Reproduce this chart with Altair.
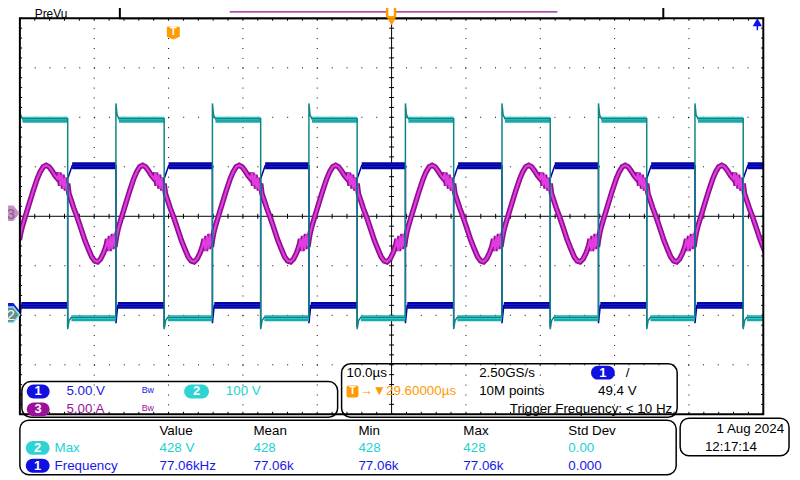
import altair as alt
import pandas as pd

ch1_v_per_div = 5.0
ch2_v_per_div = 100.0
ch3_a_per_div = 5.0
ch1_offset_div = -1.8
ch2_offset_div = -1.98
ch3_offset_div = 0.0

# switching edges of channel 2 (µs, relative to screen centre)
ch2_rise_us = [-50.06, -37.08, -24.10, -11.12, 1.86, 14.85, 27.83, 40.81]
ch2_fall_us = [-43.57, -30.59, -17.61, -4.63, 8.35, 21.34, 34.32, 47.30]

# channel 2 levels (V)
ch2_high_v = 395
ch2_low_v = -6
ch2_overshoot_v = 426
ch2_undershoot_v = -30

# channel 1 levels (V)
ch1_high_v = 14.1
ch1_low_v = 0.0
ch1_rise_dip_v = -2.2
ch1_fall_dip_v = -1.8
ch1_step_v = 12.8

# channel 3: one switching period, read after a ch2 rising edge (µs, A)
ch3_dt_us = [0.00, 0.20, 0.40, 0.80, 1.33, 1.86, 2.40, 2.80, 3.20, 3.60, 3.99, 4.39,
             4.79, 5.13, 5.33, 5.53, 5.73, 5.93, 6.13, 6.32, 6.49, 6.66, 6.92, 7.32,
             7.72, 8.26, 8.79, 9.32, 9.72, 10.12, 10.52, 10.92, 11.32, 11.65, 11.85,
             12.05, 12.25, 12.45, 12.65, 12.85]
ch3_amp_a = [-2.4, -1.6, -1.0, 0.0, 1.3, 2.6, 3.8, 4.5, 5.0, 5.15, 5.0, 4.6,
             4.1, 3.8, 4.4, 3.1, 4.2, 2.8, 3.9, 2.6, 3.3, 2.3, 1.7, 0.8,
             0.0, -1.2, -2.4, -3.4, -4.1, -4.5, -4.6, -4.3, -3.7, -3.0, -2.3,
             -3.5, -2.0, -3.3, -1.8, -3.1]

# measurement table
meas_headers = ["Value", "Mean", "Min", "Max", "Std Dev"]
meas_ch2_max = ["428 V", "428", "428", "428", "0.00"]
meas_ch1_freq = ["77.06kHz", "77.06k", "77.06k", "77.06k", "0.000"]

# ---------------- layout (page pixels) ----------------
PLOT_L, PLOT_T, PLOT_W, PLOT_H = 20, 16, 751, 400


def X(px):
    return (px - PLOT_L) / PLOT_W * 100 - 50


def Y(py):
    return 4 - (py - PLOT_T) / PLOT_H * 8


BLACK = "#000000"
BLUE_T = "#1818E8"
CYAN_T = "#22D2D2"
PURP_T = "#A010A0"
ORANGE = "#FF9A00"
FONT = "Liberation Sans"

xs = alt.Scale(domain=[-50, 50], nice=False, zero=False)
ys = alt.Scale(domain=[-4, 4], nice=False, zero=False)


def enc(xf="t", yf="d"):
    return dict(x=alt.X(f"{xf}:Q", scale=xs, axis=None),
                y=alt.Y(f"{yf}:Q", scale=ys, axis=None))


# ---------------- traces ----------------
events = sorted([(t, "r") for t in ch2_rise_us] + [(t, "f") for t in ch2_fall_us])
T_END = 50.5
cy_pts, bl_pts, cy_seg, bl_seg = [], [], [], []
for k, (t, kind) in enumerate(events):
    nxt = events[k + 1][0] if k + 1 < len(events) else T_END
    if kind == "r":
        cy_pts += [(t, ch2_low_v), (t, ch2_overshoot_v), (t + 0.15, ch2_high_v + 8), (t + 0.4, ch2_high_v)]
        cy_seg += [(k, t + 0.4, ch2_high_v), (k, nxt, ch2_high_v)]
        bl_pts += [(t, ch1_high_v), (t, ch1_fall_dip_v), (t + 0.25, ch1_low_v)]
        bl_seg += [(k, t + 0.25, ch1_low_v), (k, nxt, ch1_low_v)]
    else:
        cy_pts += [(t, ch2_high_v), (t, ch2_undershoot_v), (t + 0.2, ch2_low_v - 6), (t + 0.5, ch2_low_v)]
        cy_seg += [(k, t + 0.5, ch2_low_v), (k, nxt, ch2_low_v)]
        bl_pts += [(t, ch1_low_v), (t, ch1_rise_dip_v), (t, ch1_step_v), (t + 0.6, ch1_high_v)]
        bl_seg += [(k, t + 0.6, ch1_high_v), (k, nxt, ch1_high_v)]
cy_pts.append((T_END, ch2_low_v))
bl_pts.append((T_END, ch1_high_v))

cy_df = pd.DataFrame([(i, t, v / ch2_v_per_div + ch2_offset_div) for i, (t, v) in enumerate(cy_pts)],
                     columns=["i", "t", "d"])
bl_df = pd.DataFrame([(i, t, v / ch1_v_per_div + ch1_offset_div) for i, (t, v) in enumerate(bl_pts)],
                     columns=["i", "t", "d"])
cy_seg_df = pd.DataFrame([(s, t, v / ch2_v_per_div + ch2_offset_div) for s, t, v in cy_seg],
                         columns=["s", "t", "d"])
bl_seg_df = pd.DataFrame([(s, t, v / ch1_v_per_div + ch1_offset_div) for s, t, v in bl_seg],
                         columns=["s", "t", "d"])
mg = []
for R in ch2_rise_us:
    for dt, a in zip(ch3_dt_us, ch3_amp_a):
        mg.append((R + dt, a / ch3_a_per_div + ch3_offset_div))
mg_df = pd.DataFrame([(i, t, d) for i, (t, d) in enumerate(mg)], columns=["i", "t", "d"])

layers = []

# ---------------- graticule ----------------
hgrid = pd.DataFrame({"d": [-3, -2, -1, 1, 2, 3]})
vgrid = pd.DataFrame({"t": [-40, -30, -20, -10, 10, 20, 30, 40]})
layers.append(alt.Chart(hgrid).mark_rule(color=BLACK, strokeWidth=1, strokeDash=[1, 14]).encode(
    y=alt.Y("d:Q", scale=ys, axis=None)))
layers.append(alt.Chart(vgrid).mark_rule(color=BLACK, strokeWidth=1, strokeDash=[1, 9]).encode(
    x=alt.X("t:Q", scale=xs, axis=None)))
layers.append(alt.Chart(pd.DataFrame({"d": [0]})).mark_rule(color=BLACK, strokeWidth=1).encode(
    y=alt.Y("d:Q", scale=ys, axis=None)))
layers.append(alt.Chart(pd.DataFrame({"t": [0]})).mark_rule(color=BLACK, strokeWidth=1).encode(
    x=alt.X("t:Q", scale=xs, axis=None)))

tx = [-50 + 2 * k for k in range(51)]
dy = [round(-4 + 0.2 * k, 2) for k in range(41)]
tick_rows = []
for t in tx:
    tick_rows.append((t, -0.05, t, 0.05))
    tick_rows.append((t, 4.0, t, 3.95))
    tick_rows.append((t, -4.0, t, -3.95))
for d in dy:
    tick_rows.append((-0.33, d, 0.33, d))
    tick_rows.append((-50, d, -49.7, d))
    tick_rows.append((49.7, d, 50, d))
ticks = pd.DataFrame(tick_rows, columns=["t", "d", "t2", "d2"])
layers.append(alt.Chart(ticks).mark_rule(color=BLACK, strokeWidth=1).encode(
    **enc(), x2="t2:Q", y2="d2:Q"))

# ---------------- traces ----------------
layers.append(alt.Chart(mg_df).mark_line(color="#8E108E", strokeWidth=5.5, clip=True).encode(
    **enc(), order="i:Q"))
layers.append(alt.Chart(mg_df).mark_line(color="#E03CE0", strokeWidth=2.2, clip=True).encode(
    **enc(), order="i:Q"))

layers.append(alt.Chart(bl_seg_df).mark_line(color="#0505A5", strokeWidth=7, clip=True).encode(
    **enc(), detail="s:N"))
layers.append(alt.Chart(bl_seg_df).mark_line(color="#2030EE", strokeWidth=2.2, clip=True).encode(
    **enc(), detail="s:N"))
layers.append(alt.Chart(bl_df).mark_line(color="#0000A0", strokeWidth=1.5, clip=True).encode(
    **enc(), order="i:Q"))

layers.append(alt.Chart(cy_seg_df).mark_line(color="#1CA8A8", strokeWidth=6, yOffset=1, clip=True).encode(
    **enc(), detail="s:N"))
layers.append(alt.Chart(cy_seg_df).mark_line(color="#44E6E6", strokeWidth=2.4, clip=True).encode(
    **enc(), detail="s:N"))
layers.append(alt.Chart(cy_df).mark_line(color="#0E8585", strokeWidth=1.5, clip=True).encode(
    **enc(), order="i:Q"))

# border of graticule
border = pd.DataFrame({"t": [-50], "t2": [50], "d": [-4], "d2": [4]})
layers.append(alt.Chart(border).mark_rect(filled=False, stroke=BLACK, strokeWidth=2).encode(
    **enc(), x2="t2:Q", y2="d2:Q"))

# ---------------- on-screen furniture ----------------
boxes = pd.DataFrame([
    (22, 341, 383, 419), (345, 684, 365, 419), (20, 683, 422, 477), (687, 797, 420, 458)],
    columns=["x1", "x2", "y1", "y2"])
boxes = pd.DataFrame({"t": boxes.x1.map(X), "t2": boxes.x2.map(X), "d": boxes.y1.map(Y), "d2": boxes.y2.map(Y)})
layers.append(alt.Chart(boxes).mark_rect(fill="white", fillOpacity=0, stroke=BLACK, strokeWidth=1.5,
                                         cornerRadius=9).encode(**enc(), x2="t2:Q", y2="d2:Q"))

# record-view bar at the top
topbar = pd.DataFrame({"t": [X(121)], "t2": [X(670)], "d": [Y(-3)], "d2": [Y(16)]})
layers.append(alt.Chart(topbar).mark_rect(fill="white", stroke=BLACK, strokeWidth=2).encode(
    **enc(), x2="t2:Q", y2="d2:Q"))
layers.append(alt.Chart(pd.DataFrame({"t": [X(232)], "t2": [X(563)], "d": [Y(9.5)]})).mark_rule(
    color="#8E108E", strokeWidth=1.5).encode(**enc(), x2="t2:Q"))
layers.append(alt.Chart(pd.DataFrame({"t": [X(391)], "t2": [X(399)], "d": [Y(3)], "d2": [Y(15)]})).mark_rect(
    fill="white", stroke=ORANGE, strokeWidth=2.5, cornerRadius=2).encode(**enc(), x2="t2:Q", y2="d2:Q"))
layers.append(alt.Chart(pd.DataFrame({"t": [X(395.5)], "d": [Y(19.5)]})).mark_point(
    shape="triangle-down", filled=True, color=ORANGE, size=70, opacity=1).encode(**enc()))

# trigger position marker "T"
layers.append(alt.Chart(pd.DataFrame({"t": [X(175)], "d": [Y(31)]})).mark_point(
    shape="M -1 -1 L 1 -1 L 1 0.55 L 0 1 L -1 0.55 Z", filled=True, color=ORANGE, size=170,
    opacity=1).encode(**enc()))
layers.append(alt.Chart(pd.DataFrame({"t": [X(175)], "d": [Y(30)], "s": ["T"]})).mark_text(
    font=FONT, fontSize=11, fontWeight="bold", color="white").encode(**enc(), text="s:N"))

# trigger level arrow (blue, top right)
layers.append(alt.Chart(pd.DataFrame({"t": [X(765)], "d": [Y(20)]})).mark_point(
    shape="triangle-up", filled=True, color="#1010F0", size=90, opacity=1).encode(**enc()))
layers.append(alt.Chart(pd.DataFrame({"t": [X(765)], "d": [Y(20)], "d2": [Y(28)]})).mark_rule(
    color="#1010F0", strokeWidth=1.5).encode(**enc(), y2="d2:Q"))

# channel ground markers on the left
marker_path = "M -1 -0.8 L 0.35 -0.8 L 1 0 L 0.35 0.8 L -1 0.8 Z"
layers.append(alt.Chart(pd.DataFrame({"t": [X(10)], "d": [Y(311.5)]})).mark_point(
    shape=marker_path, filled=True, color="#1818D8", size=380, opacity=1).encode(**enc()))
layers.append(alt.Chart(pd.DataFrame({"t": [X(10)], "d": [Y(315.5)]})).mark_point(
    shape=marker_path, filled=True, fill="#6E8A8A", stroke="#7FF0F0", strokeWidth=1.5, size=380,
    opacity=1).encode(**enc()))
layers.append(alt.Chart(pd.DataFrame({"t": [X(10)], "d": [Y(213)]})).mark_point(
    shape=marker_path, filled=True, color="#D08CD0", size=380, opacity=1).encode(**enc()))
mlabels = pd.DataFrame({"t": [X(11), X(11)], "d": [Y(214), Y(316)], "s": ["3", "2"],
                        "c": ["#6E6E6E", "#E8FFFF"]})
layers.append(alt.Chart(mlabels).mark_text(font=FONT, fontSize=15).encode(
    **enc(), text="s:N", color=alt.Color("c:N", scale=None)))

# pills
pills = pd.DataFrame([
    (27, 50, 386, 400, "#1010E0", "1"), (186, 211, 386, 400, "#2ED3D3", "2"),
    (27, 50, 404, 418, "#9C0E9C", "3"), (597, 621, 367, 381, "#1010E0", "1"),
    (26, 50, 443, 457, "#2ED3D3", "2"), (26, 50, 461, 475, "#1010E0", "1")],
    columns=["x1", "x2", "y1", "y2", "c", "s"])
pills["t"] = pills.x1.map(X)
pills["t2"] = pills.x2.map(X)
pills["d"] = pills.y1.map(Y)
pills["d2"] = pills.y2.map(Y)
pills["tm"] = ((pills.x1 + pills.x2) / 2).map(X)
pills["dm"] = ((pills.y1 + pills.y2) / 2).map(Y)
layers.append(alt.Chart(pills).mark_rect(cornerRadius=7).encode(
    **enc(), x2="t2:Q", y2="d2:Q", fill=alt.Fill("c:N", scale=None)))
layers.append(alt.Chart(pills).mark_text(font=FONT, fontSize=13, fontWeight="bold", color="white").encode(
    **enc("tm", "dm"), text="s:N"))

# orange T box in timebase panel
layers.append(alt.Chart(pd.DataFrame({"t": [X(350)], "t2": [X(362)], "d": [Y(387)], "d2": [Y(399)]})).mark_rect(
    color=ORANGE, cornerRadius=2).encode(**enc(), x2="t2:Q", y2="d2:Q"))
layers.append(alt.Chart(pd.DataFrame({"t": [X(356)], "d": [Y(393)], "s": ["T"]})).mark_text(
    font=FONT, fontSize=11, fontWeight="bold", color="white").encode(**enc(), text="s:N"))

# "PreVu" label in the top strip
layers.append(alt.Chart(pd.DataFrame({"t": [X(35)], "d": [Y(15.5)], "s": ["PreVu"]})).mark_text(
    font=FONT, fontSize=12, align="left", baseline="alphabetic", color=BLACK).encode(**enc(), text="s:N"))

# texts (left aligned)
texts = [
    ("10.0µs", 350, 374, BLACK, 13.5),
    ("2.50GS/s", 484, 374, BLACK, 13.5),
    ("/", 632, 374, BLACK, 13.5),
    ("→▼29.60000µs", 363, 393, ORANGE, 13.5),
    ("10M points", 484, 393, BLACK, 13.5),
    ("49.4 V", 604, 393, BLACK, 13.5),
    ("5.00 V", 67, 393, BLUE_T, 13.5),
    ("Bw", 143, 392, BLUE_T, 9),
    ("100 V", 228, 393, CYAN_T, 13.5),
    ("5.00 A", 67, 411, PURP_T, 13.5),
    ("Bw", 143, 410, PURP_T, 9),
    ("Max", 55, 450, CYAN_T, 13.5),
    ("Frequency", 55, 468, BLUE_T, 13.5),
    ("12:17:14", 712, 449, BLACK, 13.5),
]
col_x = [161, 256, 362, 468, 574]
for h, x in zip(meas_headers, col_x):
    texts.append((h, x, 433, BLACK, 13.5))
for v, x in zip(meas_ch2_max, col_x):
    texts.append((v, x, 450, CYAN_T, 13.5))
for v, x in zip(meas_ch1_freq, col_x):
    texts.append((v, x, 468, BLUE_T, 13.5))
tl = pd.DataFrame(texts, columns=["s", "x", "y", "c", "fs"])
tl["t"] = tl.x.map(X)
tl["d"] = tl.y.map(Y)
layers.append(alt.Chart(tl).mark_text(font=FONT, align="left", baseline="middle").encode(
    **enc(), text="s:N", color=alt.Color("c:N", scale=None), size=alt.Size("fs:Q", scale=None)))

tr = pd.DataFrame([("Trigger Frequency: < 10 Hz", 679, 411), ("1 Aug 2024", 792, 431)],
                  columns=["s", "x", "y"])
tr["t"] = tr.x.map(X)
tr["d"] = tr.y.map(Y)
layers.append(alt.Chart(tr).mark_text(font=FONT, fontSize=13.5, align="right", baseline="middle",
                                      color=BLACK).encode(**enc(), text="s:N"))

chart = alt.layer(*layers).properties(
    width=PLOT_W, height=PLOT_H,
    autosize=alt.AutoSizeParams(type="none"),
    padding={"left": 12, "top": 8, "right": 29, "bottom": 64},
    background="white",
).configure_view(strokeWidth=0)

chart.save("out.html", embed_options={"renderer": "svg", "actions": False})
